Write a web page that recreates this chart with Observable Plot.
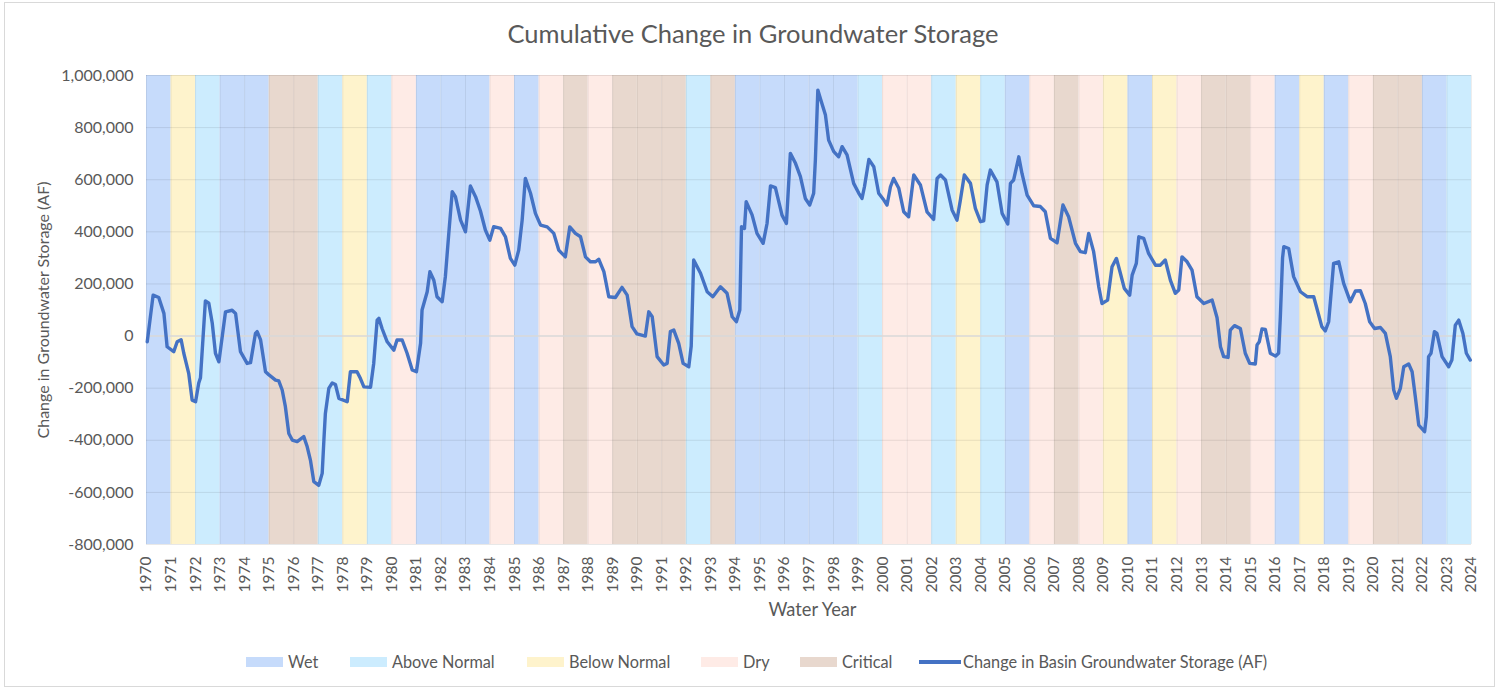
<!DOCTYPE html>
<html>
<head>
<meta charset="utf-8">
<script src="https://cdn.jsdelivr.net/npm/d3@7"></script>
<script src="https://cdn.jsdelivr.net/npm/@observablehq/plot@0.6"></script>
<style>
  html, body { margin: 0; padding: 0; background: #fff; }
  #wrap { position: relative; width: 1506px; height: 690px; font-family: Lato, "Open Sans", sans-serif; color: #595959; overflow: hidden; }
  #frame { position: absolute; left: 4px; top: 2px; width: 1491px; height: 685px; border: 1px solid #d9d9d9; box-sizing: border-box; }
  #chart { position: absolute; left: 0; top: 0; }
  .t { position: absolute; white-space: nowrap; }
  #title { left: 0; width: 1506px; top: 18px; text-align: center; font-size: 25.5px; }
  .sw { position: absolute; width: 37px; height: 10px; top: 657px; }
  .lt { position: absolute; top: 652px; font-size: 16.3px; line-height: 20px; white-space: nowrap; }
</style>
</head>
<body>
<div id="wrap">
  <div id="frame"></div>
  <div id="chart"></div>
  <div class="t" id="title">Cumulative Change in Groundwater Storage</div>
  <div id="legend"></div>
</div>
<script>
// Water year types, one per year band (year Y spans Y..Y+1)
const years = [1970,1971,1972,1973,1974,1975,1976,1977,1978,1979,1980,1981,1982,1983,1984,1985,1986,1987,1988,1989,1990,1991,1992,1993,1994,1995,1996,1997,1998,1999,2000,2001,2002,2003,2004,2005,2006,2007,2008,2009,2010,2011,2012,2013,2014,2015,2016,2017,2018,2019,2020,2021,2022,2023];
const yearTypes = ["W","BN","AN","W","W","C","C","AN","BN","AN","D","W","W","W","D","W","D","C","D","C","C","C","AN","C","W","W","W","W","W","AN","D","D","AN","BN","AN","W","D","C","D","BN","W","BN","D","C","C","D","W","BN","W","D","C","C","W","AN"];

const typeCodes = ["W","AN","BN","D","C"];
const typeNames = ["Wet","Above Normal","Below Normal","Dry","Critical"];
const typeColors = ["#c6dbfb","#ccecfe","#fef3cc","#feebe6","#e8d8ce"];

const seriesName = "Change in Basin Groundwater Storage (AF)";
const yTitle = "Change in Groundwater Storage (AF)";
const xTitle = "Water Year";
const lineColor = "#4472c4";

// Cumulative change in storage (AF), time in decimal years
const t = [1970.03,1970.27,1970.5,1970.71,1970.84,1971.11,1971.25,1971.41,1971.52,1971.72,1971.86,1972.0,1972.13,1972.2,1972.4,1972.54,1972.68,1972.81,1972.95,1973.22,1973.49,1973.63,1973.83,1974.1,1974.24,1974.44,1974.51,1974.65,1974.85,1974.98,1975.26,1975.39,1975.53,1975.66,1975.8,1975.94,1976.14,1976.41,1976.55,1976.68,1976.82,1977.02,1977.16,1977.23,1977.29,1977.43,1977.57,1977.7,1977.84,1978.18,1978.31,1978.58,1978.72,1978.86,1979.13,1979.26,1979.4,1979.47,1979.6,1979.81,1980.08,1980.21,1980.42,1980.62,1980.83,1981.0,1981.17,1981.23,1981.44,1981.55,1981.71,1981.84,1982.05,1982.18,1982.32,1982.46,1982.59,1982.8,1983.0,1983.2,1983.41,1983.61,1983.81,1983.99,1984.15,1984.43,1984.63,1984.83,1985.01,1985.17,1985.31,1985.44,1985.65,1985.85,1986.06,1986.33,1986.6,1986.8,1987.07,1987.25,1987.48,1987.69,1987.89,1988.09,1988.3,1988.43,1988.64,1988.84,1989.11,1989.38,1989.59,1989.79,1989.99,1990.33,1990.47,1990.61,1990.81,1991.08,1991.22,1991.35,1991.49,1991.69,1991.87,1992.1,1992.2,1992.3,1992.58,1992.85,1993.08,1993.39,1993.66,1993.87,1994.04,1994.18,1994.25,1994.37,1994.44,1994.68,1994.88,1995.13,1995.29,1995.43,1995.63,1995.9,1996.08,1996.24,1996.45,1996.65,1996.85,1997.03,1997.19,1997.26,1997.36,1997.47,1997.67,1997.8,1998.01,1998.21,1998.35,1998.55,1998.82,1999.03,1999.16,1999.26,1999.44,1999.64,1999.84,2000.05,2000.18,2000.32,2000.45,2000.66,2000.86,2001.06,2001.27,2001.54,2001.81,2002.08,2002.22,2002.36,2002.56,2002.83,2003.03,2003.17,2003.33,2003.58,2003.78,2003.99,2004.12,2004.26,2004.39,2004.66,2004.87,2005.1,2005.21,2005.34,2005.55,2005.68,2005.89,2006.16,2006.43,2006.63,2006.84,2007.11,2007.35,2007.58,2007.86,2008.06,2008.26,2008.4,2008.6,2008.81,2008.94,2009.17,2009.35,2009.53,2009.69,2009.85,2010.07,2010.17,2010.34,2010.44,2010.64,2010.84,2011.12,2011.32,2011.52,2011.73,2011.93,2012.07,2012.2,2012.41,2012.61,2012.81,2013.09,2013.43,2013.63,2013.77,2013.9,2014.08,2014.17,2014.34,2014.58,2014.78,2014.96,2015.19,2015.26,2015.35,2015.46,2015.6,2015.8,2016.01,2016.14,2016.21,2016.3,2016.35,2016.55,2016.75,2017.03,2017.3,2017.57,2017.7,2017.9,2018.04,2018.18,2018.38,2018.59,2018.79,2019.06,2019.27,2019.47,2019.67,2019.85,2020.05,2020.29,2020.49,2020.69,2020.83,2020.94,2021.1,2021.24,2021.44,2021.58,2021.71,2021.85,2022.09,2022.16,2022.25,2022.35,2022.49,2022.59,2022.8,2023.07,2023.2,2023.34,2023.48,2023.65,2023.79,2023.95];
const v = [-22000,157000,148000,87000,-41000,-60000,-22000,-14000,-66000,-143000,-246000,-252000,-180000,-160000,135000,126000,49000,-66000,-99000,93000,99000,87000,-60000,-105000,-102000,10000,17000,-15000,-137000,-148000,-169000,-172000,-207000,-271000,-374000,-399000,-405000,-386000,-425000,-476000,-559000,-573000,-527000,-399000,-297000,-201000,-180000,-186000,-239000,-252000,-137000,-137000,-163000,-195000,-197000,-105000,61000,68000,29000,-22000,-54000,-15000,-15000,-66000,-130000,-137000,-28000,100000,170000,247000,214000,151000,132000,228000,394000,554000,535000,445000,400000,576000,535000,480000,407000,368000,420000,413000,381000,298000,272000,330000,445000,605000,548000,471000,426000,419000,394000,330000,304000,419000,394000,381000,304000,285000,285000,295000,247000,151000,148000,187000,157000,36000,8000,0,93000,74000,-79000,-111000,-105000,17000,23000,-28000,-105000,-118000,-38000,292000,241000,170000,151000,189000,164000,74000,55000,100000,420000,413000,516000,465000,394000,356000,432000,576000,570000,464000,432000,701000,663000,612000,528000,503000,548000,676000,944000,910000,848000,752000,708000,688000,727000,695000,586000,548000,528000,573000,678000,650000,548000,522000,503000,573000,605000,567000,477000,458000,618000,580000,477000,448000,605000,618000,599000,484000,445000,522000,618000,586000,490000,439000,442000,580000,637000,592000,471000,430000,586000,599000,688000,624000,541000,500000,497000,477000,375000,358000,503000,458000,356000,324000,320000,394000,324000,189000,125000,138000,266000,298000,241000,183000,157000,234000,279000,381000,375000,317000,272000,272000,292000,214000,164000,177000,304000,285000,253000,151000,125000,138000,70000,-41000,-79000,-82000,23000,40000,29000,-66000,-105000,-107000,-34000,-22000,27000,25000,-66000,-77000,-66000,75000,300000,343000,336000,228000,170000,151000,151000,106000,36000,20000,55000,279000,285000,202000,132000,173000,174000,125000,55000,29000,33000,10000,-79000,-207000,-239000,-201000,-118000,-107000,-137000,-233000,-342000,-367000,-309000,-79000,-66000,17000,10000,-79000,-118000,-92000,42000,61000,10000,-66000,-92000];

const yTicks = [-800000,-600000,-400000,-200000,0,200000,400000,600000,800000,1000000];
const xTicks = [1970,1971,1972,1973,1974,1975,1976,1977,1978,1979,1980,1981,1982,1983,1984,1985,1986,1987,1988,1989,1990,1991,1992,1993,1994,1995,1996,1997,1998,1999,2000,2001,2002,2003,2004,2005,2006,2007,2008,2009,2010,2011,2012,2013,2014,2015,2016,2017,2018,2019,2020,2021,2022,2023,2024];

const bands = years.map((y, i) => ({year: y, type: yearTypes[i]}));
const series = t.map((x, i) => ({t: x, v: v[i]}));

const chart = Plot.plot({
  width: 1506,
  height: 690,
  marginTop: 75,
  marginBottom: 146,
  marginLeft: 146,
  marginRight: 35,
  style: {fontFamily: "Lato, 'Open Sans', sans-serif", fontSize: "15px", color: "#595959", background: "transparent"},
  x: {domain: [1970, 2024]},
  y: {domain: [-800000, 1000000]},
  color: {domain: typeCodes, range: typeColors},
  marks: [
    Plot.rectY(bands, {x1: "year", x2: d => d.year + 1, y1: -800000, y2: 1000000, fill: "type"}),
    Plot.ruleX(xTicks, {stroke: "#000", strokeOpacity: 0.07}),
    Plot.ruleY(yTicks.filter(d => d !== 0), {stroke: "#000", strokeOpacity: 0.09}),
    Plot.ruleY([0], {stroke: "#d9d9d9", strokeWidth: 1.5}),
    Plot.axisX({ticks: xTicks, tickFormat: d => String(d), tickRotate: -90, tickSize: 0, tickPadding: 12, label: null, fontSize: 15.5}),
    Plot.axisY({ticks: yTicks, tickFormat: d => d.toLocaleString("en-US"), tickSize: 0, tickPadding: 13, label: null, fontSize: 16}),
    Plot.text([yTitle], {frameAnchor: "left", dx: -103, rotate: -90, fontSize: 16, fill: "#595959", lineAnchor: "middle", textAnchor: "middle"}),
    Plot.text([xTitle], {frameAnchor: "bottom", dx: 3.5, dy: 66, fontSize: 18.3, fill: "#595959", lineAnchor: "middle"}),
    Plot.line(series, {x: "t", y: "v", stroke: lineColor, strokeWidth: 3.4, strokeLinejoin: "round", strokeLinecap: "round"})
  ]
});
document.getElementById("chart").appendChild(chart);

// Legend
const legend = document.getElementById("legend");
const swLeft = [246, 350, 527, 701, 800];
typeNames.forEach((name, i) => {
  const s = document.createElement("div");
  s.className = "sw";
  s.style.left = swLeft[i] + "px";
  s.style.background = typeColors[i];
  legend.appendChild(s);
  const l = document.createElement("div");
  l.className = "lt";
  l.style.left = (swLeft[i] + 42) + "px";
  l.textContent = name;
  legend.appendChild(l);
});
const ls = document.createElement("div");
ls.className = "sw";
ls.style.left = "919px";
ls.style.width = "42px";
ls.style.top = "660px";
ls.style.height = "4px";
ls.style.background = lineColor;
legend.appendChild(ls);
const ll = document.createElement("div");
ll.className = "lt";
ll.style.left = "963px";
ll.textContent = seriesName;
legend.appendChild(ll);
</script>
</body>
</html>
